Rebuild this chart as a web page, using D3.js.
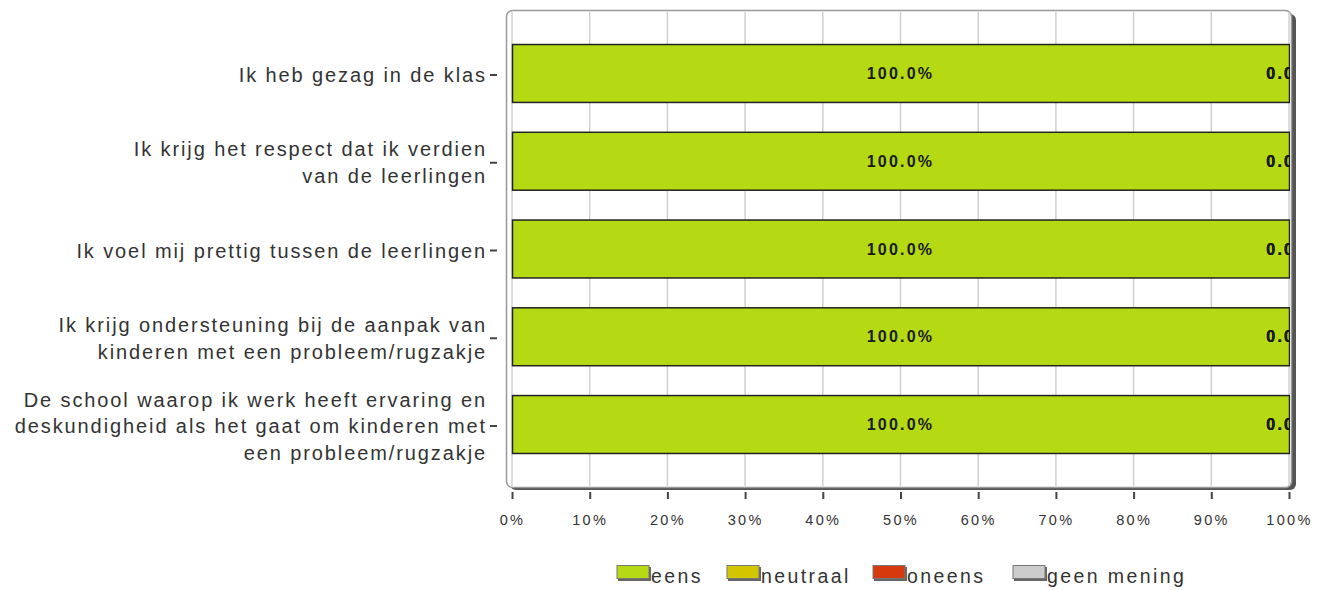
<!DOCTYPE html>
<html>
<head>
<meta charset="utf-8">
<script src="https://cdn.jsdelivr.net/npm/d3@7"></script>
<style>
  body { margin: 0; background: #fff; }
  svg text { font-family: "Liberation Sans", Arial, sans-serif; }
</style>
</head>
<body>
<svg id="chart" width="1328" height="590"></svg>
<script>
// statements (one per bar), each split into display lines
const categories = [
  ["Ik heb gezag in de klas"],
  ["Ik krijg het respect dat ik verdien", "van de leerlingen"],
  ["Ik voel mij prettig tussen de leerlingen"],
  ["Ik krijg ondersteuning bij de aanpak van", "kinderen met een probleem/rugzakje"],
  ["De school waarop ik werk heeft ervaring en", "deskundigheid als het gaat om kinderen met", "een probleem/rugzakje"]
];
const seriesNames = ["eens", "neutraal", "oneens", "geen mening"];
const seriesColors = ["#b5da14", "#d2c600", "#d63a0c", "#cccccc"];
// percentages per series, one value per statement
const eens = [100, 100, 100, 100, 100];
const neutraal = [0, 0, 0, 0, 0];
const oneens = [0, 0, 0, 0, 0];
const geenMening = [0, 0, 0, 0, 0];
const xTicks = [0, 10, 20, 30, 40, 50, 60, 70, 80, 90, 100];

const series = [eens, neutraal, oneens, geenMening];
const rows = categories.map((c, i) => {
  const r = { key: i };
  seriesNames.forEach((s, j) => r[s] = series[j][i]);
  return r;
});
const stacked = d3.stack().keys(seriesNames)(rows);

const svg = d3.select('#chart');
const x = d3.scaleLinear().domain([0, 100]).range([512, 1289]);
const y = d3.scaleBand().domain(d3.range(categories.length))
  .range([29.1, 467.9]).paddingInner(0.34).paddingOuter(0.17);

// frame shadow + frame
svg.append('rect').attr('x', 510).attr('y', 14).attr('width', 786).attr('height', 476)
  .attr('rx', 6).attr('fill', '#555');
svg.append('rect').attr('x', 506.5).attr('y', 10.5).attr('width', 785).attr('height', 477)
  .attr('rx', 6).attr('fill', '#fff').attr('stroke', '#999').attr('stroke-width', 1.5);

svg.append('defs').append('clipPath').attr('id', 'plotclip')
  .append('rect').attr('x', 507).attr('y', 11).attr('width', 783).attr('height', 476);

// gridlines
svg.append('g').selectAll('line').data(xTicks).join('line')
  .attr('x1', d => x(d)).attr('x2', d => x(d))
  .attr('y1', 12).attr('y2', 486)
  .attr('stroke', '#d0d0d0').attr('stroke-width', 1.5);

const plot = svg.append('g').attr('clip-path', 'url(#plotclip)');

// bars
stacked.forEach((layer, j) => {
  plot.append('g').selectAll('rect').data(layer).join('rect')
    .attr('x', d => x(d[0]) + 0.5)
    .attr('y', (d, i) => y(i) + 0.5)
    .attr('width', d => x(d[1]) - x(d[0]))
    .attr('height', y.bandwidth())
    .attr('fill', seriesColors[j])
    .attr('stroke', d => d[1] > d[0] ? '#222' : 'none')
    .attr('stroke-width', 1.5);
});

// value labels
stacked.forEach((layer, j) => {
  plot.append('g').selectAll('text').data(layer).join('text')
    .attr('x', d => (x(d[0]) + x(d[1])) / 2)
    .attr('y', (d, i) => y(i) + y.bandwidth() / 2 + 6)
    .attr('text-anchor', 'middle')
    .attr('font-size', 16).attr('font-weight', 'bold')
    .attr('letter-spacing', 2.2)
    .attr('fill', '#1a1a1a')
    .text(d => (d[1] - d[0]).toFixed(1) + '%');
});

// y axis labels and tick dashes
const yl = svg.append('g');
categories.forEach((lines, i) => {
  const cy = y(i) + y.bandwidth() / 2;
  yl.append('line').attr('x1', 490).attr('x2', 497)
    .attr('y1', cy + 2).attr('y2', cy + 2)
    .attr('stroke', '#444').attr('stroke-width', 2);
  const t = yl.append('text').attr('text-anchor', 'end')
    .attr('font-size', 20).attr('fill', '#333').attr('letter-spacing', 1.9);
  const lh = 26.5;
  const top = cy - (lines.length - 1) * lh / 2 + 9;
  lines.forEach((l, k) => t.append('tspan').attr('x', 487).attr('y', top + k * lh).text(l));
});

// x axis
const xAxis = d3.axisBottom(x).tickValues(xTicks).tickSize(7).tickPadding(16)
  .tickFormat(d => d + '%');
const gx = svg.append('g').attr('transform', 'translate(0,492)').call(xAxis);
gx.select('.domain').remove();
gx.selectAll('.tick line').attr('stroke', '#444').attr('stroke-width', 2);
gx.selectAll('.tick text').attr('font-size', 14.5).attr('fill', '#333')
  .attr('letter-spacing', 2.3).attr('font-family', '"Liberation Sans", Arial, sans-serif');

// legend
const legendX = [617, 727, 873, 1013];
const lg = svg.append('g');
seriesNames.forEach((s, j) => {
  lg.append('rect').attr('x', legendX[j] + 1).attr('y', 567).attr('width', 33).attr('height', 14)
    .attr('fill', '#666');
  lg.append('rect').attr('x', legendX[j]).attr('y', 565.5).attr('width', 32).attr('height', 13)
    .attr('fill', seriesColors[j]).attr('stroke', '#777').attr('stroke-width', 1);
  lg.append('text').attr('x', legendX[j] + 34).attr('y', 583)
    .attr('font-size', 19.5).attr('fill', '#333').attr('letter-spacing', 2.4).text(s);
});
</script>
</body>
</html>
